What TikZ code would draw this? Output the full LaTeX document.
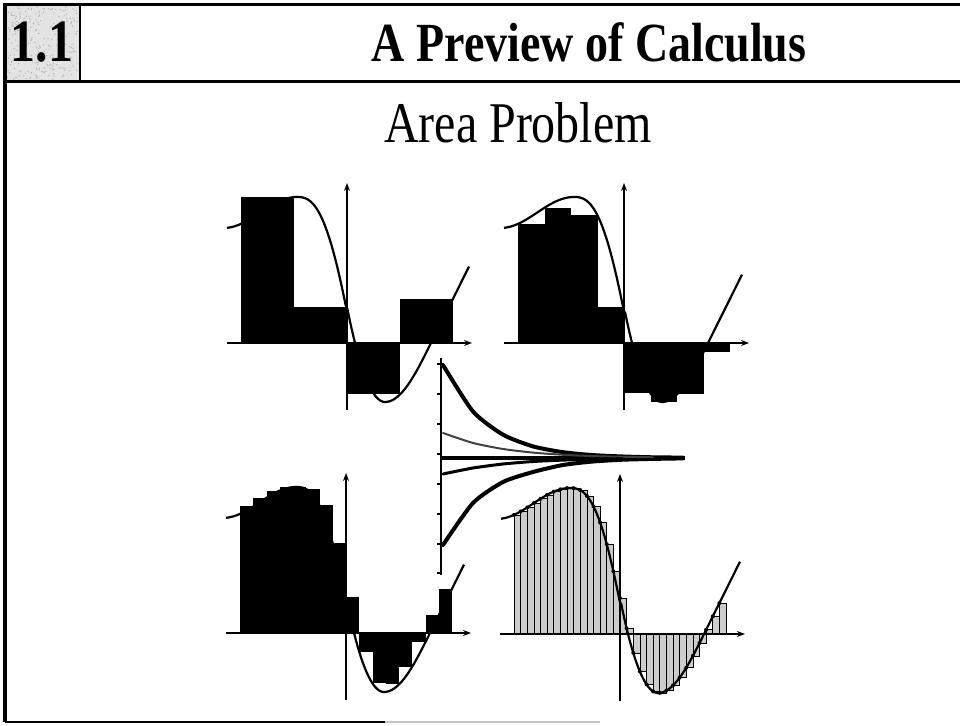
\documentclass[tikz,border=0pt]{standalone}
\usepackage{fontspec}
\usepackage{graphicx}
\setmainfont{Liberation Serif}
\usetikzlibrary{arrows.meta}
\begin{document}
\begin{tikzpicture}[x=1pt,y=1pt,
  declare function={fc(\x)=(\x<-50) ? (146-15.5*(1-cos(2.45*(-50-\x)))) :
     ((\x<0) ? (146*cos(90*((abs(\x+50)+0.001)/56)^1.3)) :
     ((\x<38) ? (-(\x/38)*(\x/38)*(\x/38)+97*(\x/38)*(\x/38)-191*(\x/38)+36) :
     ((\x<84) ? (-59*cos(90*(\x-38)/46)) : (2.01*(\x-84)))));},
  fcurve/.style={line width=2.2pt, line join=round},
  axline/.style={line width=1.4pt, -{Stealth[length=8pt,width=6pt]}},
  frameline/.style={line width=3pt},
  brrect/.style={fill=gray!40, draw=black, line width=0.6pt},
  speck/.style={fill=gray!60},
  conv/.style={line width=4pt, line cap=round, line join=round}]
\useasboundingbox (0,0) rectangle (960,725);

% ---------- frame and header ----------
\fill[gray!22] (5,720) rectangle (80,643);
\pgfmathsetseed{7}
\foreach \k in {1,...,260}{
  \pgfmathsetmacro\rx{6+73*rnd}
  \pgfmathsetmacro\ry{644+75*rnd}
  \fill[speck] (\rx,\ry) circle (0.7);
}
\draw[frameline] (5,720) -- (960,720);
\draw[frameline] (5,643) -- (960,643);
\draw[line width=3.5pt] (5,721.5) -- (5,3);
\draw[line width=2pt] (80,720) -- (80,643);
\draw[line width=2.5pt] (5,3) -- (385,3);
\draw[line width=2pt, gray!45] (385,3) -- (600,3);
\node[font=\bfseries\fontsize{50}{52}\selectfont, anchor=base] (num) at (42,663) {\scalebox{1}[1.2]{1.1}};
\node[font=\bfseries\fontsize{46}{50}\selectfont, anchor=base] (title) at (589,663) {\scalebox{1}[1.2]{A Preview of Calculus}};
\node[font=\fontsize{48}{52}\selectfont, anchor=base] (sub) at (518,582) {\scalebox{1}[1.2]{Area Problem}};

% ---------- top-left: right endpoints, n=4 ----------
\begin{scope}[shift={(347,382)}]
  \foreach \i in {0,...,3}{
    \pgfmathsetmacro\a{-106+53*\i}
    \pgfmathsetmacro\b{\a+53}
    \pgfmathsetmacro\h{fc(\b)}
    \fill (\a,0) rectangle (\b,\h);
  }
  \draw[fcurve] plot[domain=-120:122, samples=160] (\x,{fc(\x)});
  \draw[axline] (-120,0) -- (125,0);
  \draw[axline] (0,-67) -- (0,160);
\end{scope}

% ---------- top-right: lower sum, n=8 ----------
\begin{scope}[shift={(624,382)}]
  \foreach \i in {0,...,7}{
    \pgfmathsetmacro\a{-106+26.5*\i}
    \pgfmathsetmacro\b{\a+26.5}
    \pgfmathsetmacro\h{and(\a<38,\b>38) ? -59 : min(fc(\a),fc(\b))}
    \fill (\a,0) rectangle (\b,\h);
  }
  \draw[fcurve] plot[domain=-120:118, samples=160] (\x,{fc(\x)});
  \draw[axline] (-120,0) -- (125,0);
  \draw[axline] (0,-67) -- (0,160);
\end{scope}

% ---------- bottom-left: upper sum, n=16 ----------
\begin{scope}[shift={(346,92)}]
  \draw[fcurve] plot[domain=-120:118, samples=160] (\x,{fc(\x)});
  \foreach \i in {0,...,15}{
    \pgfmathsetmacro\a{-106+13.25*\i}
    \pgfmathsetmacro\b{\a+13.25}
    \pgfmathsetmacro\h{and(\a<-50,\b>-50) ? 146 : max(fc(\a),fc(\b))}
    \fill (\a,0) rectangle (\b,\h);
  }
  \draw[axline] (-120,0) -- (125,0);
  \draw[axline] (0,-67) -- (0,160);
\end{scope}

% ---------- bottom-right: left endpoints, n=32 ----------
\begin{scope}[shift={(620,91)}]
  \foreach \i in {0,...,31}{
    \pgfmathsetmacro\a{-106+6.625*\i}
    \pgfmathsetmacro\b{\a+6.625}
    \pgfmathsetmacro\h{fc(\a)}
    \draw[brrect] (\a,0) rectangle (\b,\h);
  }
  \draw[fcurve] plot[domain=-119:120, samples=160] (\x,{fc(\x)});
  \foreach \i in {0,...,31}{
    \pgfmathsetmacro\a{-106+6.625*\i}
    \pgfmathsetmacro\h{fc(\a)}
    \fill (\a,\h) circle (2);
  }
  \draw[axline] (-120,0) -- (125,0);
  \draw[axline] (0,-67) -- (0,160);
\end{scope}

% ---------- middle: convergence of the sums ----------
\begin{scope}[shift={(441,267)}]
  \draw[line width=1.5pt] (0,100) -- (0,-117);
  \foreach \t in {94,64,34,4,-26,-56,-86,-115}{
    \draw[line width=1.2pt] (-4,\t) -- (0,\t);
  }
  \draw[line width=4.5pt] (0,0) -- (244,0);
  \draw[conv] plot[smooth, tension=0.4] coordinates {(2,93) (32,46.5) (62,23.3) (92,11.6) (122,5.8) (152,2.9) (182,1.5) (212,0.7) (242,0.4)};
  \draw[conv] plot[smooth, tension=0.4] coordinates {(2,-87) (32,-45) (62,-24) (92,-14) (122,-7) (152,-3.5) (182,-1.7) (212,-0.9) (242,-0.4)};
  \draw[line width=2pt, black!75, line cap=round] plot[smooth, tension=0.4] coordinates {(2,25) (32,15) (62,9) (92,5.4) (122,3.2) (152,1.9) (182,1.2) (212,0.7)};
  \draw[line width=3pt, line cap=round] plot[smooth, tension=0.4] coordinates {(2,-16) (32,-10) (62,-6) (92,-3.5) (122,-2.1) (152,-1.3) (182,-0.8)};
\end{scope}
\end{tikzpicture}
\end{document}
